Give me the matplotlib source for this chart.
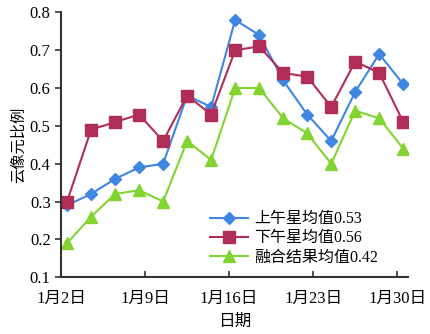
import numpy as np
import matplotlib
matplotlib.use("Agg")
import matplotlib.pyplot as plt

plt.rcParams['font.family'] = ['Liberation Serif', 'Noto Sans CJK SC', 'DejaVu Sans']

days = [2.5, 4.5, 6.5, 8.5, 10.5, 12.5, 14.5, 16.5, 18.5, 20.5, 22.5, 24.5, 26.5, 28.5, 30.5]
morning = [0.29, 0.32, 0.36, 0.39, 0.40, 0.58, 0.55, 0.78, 0.74, 0.62, 0.53, 0.46, 0.59, 0.69, 0.61]
afternoon = [0.30, 0.49, 0.51, 0.53, 0.46, 0.58, 0.53, 0.70, 0.71, 0.64, 0.63, 0.55, 0.67, 0.64, 0.51]
fused = [0.19, 0.26, 0.32, 0.33, 0.30, 0.46, 0.41, 0.60, 0.60, 0.52, 0.48, 0.40, 0.54, 0.52, 0.44]

tick_days = [2, 9, 16, 23, 30]
tick_labels = ['1月2日', '1月9日', '1月16日', '1月23日', '1月30日']
series_labels = ['上午星均值0.53', '下午星均值0.56', '融合结果均值0.42']

fig = plt.figure(figsize=(4.3, 3.34), dpi=100)
ax = fig.add_axes([0.142, 0.170, 0.807, 0.793])

ax.plot(days, morning, color='#3f86e0', marker='D', markersize=6, linewidth=1.5, label=series_labels[0])
ax.plot(days, afternoon, color='#b02d58', marker='s', markersize=8, linewidth=1.5, label=series_labels[1])
ax.plot(days, fused, color='#82d431', marker='^', markersize=8.5, linewidth=1.5, label=series_labels[2])

ax.set_xlim(2, 30.9)
ax.set_ylim(0.1, 0.8)
ax.set_xticks(tick_days)
ax.set_xticklabels(tick_labels)
ax.set_yticks(np.round(np.arange(0.1, 0.81, 0.1), 1))
ax.set_yticklabels([f'{v:.1f}' for v in np.arange(0.1, 0.81, 0.1)])

for s in ['top', 'right']:
    ax.spines[s].set_visible(False)
for s in ['left', 'bottom']:
    ax.spines[s].set_color('#333333')
    ax.spines[s].set_linewidth(1.5)
ax.tick_params(axis='x', direction='in', length=4, width=1.2, color='#333333', labelsize=12, pad=10)
ax.tick_params(axis='y', direction='out', length=4, width=1.2, color='#333333', labelsize=12)

ax.set_xlabel('日期', fontsize=12, labelpad=5)
ax.set_ylabel('云像元比例', fontsize=11, labelpad=3)

ax.legend(loc='lower left', bbox_to_anchor=(0.41, 0.02), frameon=False, fontsize=11.5,
          handlelength=2.4, handletextpad=0.4, labelspacing=0.2, borderaxespad=0)

fig.savefig('out.png', dpi=100)
